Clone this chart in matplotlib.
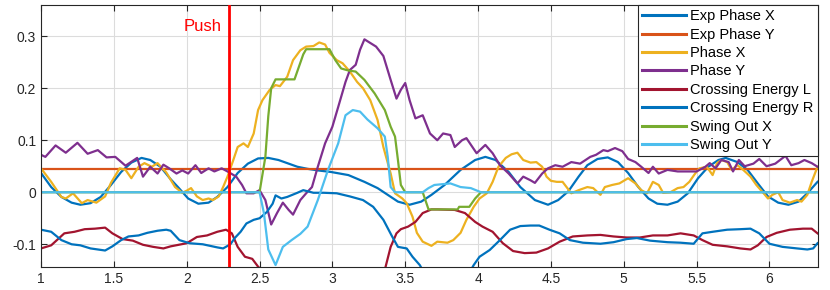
import matplotlib
matplotlib.use("Agg")
import matplotlib.pyplot as plt

plt.rcParams['font.family'] = ['Liberation Sans', 'DejaVu Sans']

# values
push_time = 2.287
exp_phase_y = 0.045

exp_x_t = [1.00, 1.07, 1.14, 1.21, 1.27, 1.34, 1.41, 1.48, 1.55, 1.62, 1.69, 1.75, 1.82, 1.89,
           1.94, 2.01, 2.08, 2.15, 2.21, 2.28, 2.35, 2.42, 2.49, 2.56, 2.63, 2.70, 2.76, 2.83,
           2.90, 2.99, 3.11, 3.22, 3.31, 3.38, 3.45, 3.53, 3.61, 3.68, 3.77, 3.88, 3.98, 4.05,
           4.12, 4.21, 4.29, 4.39, 4.48, 4.55, 4.62, 4.69, 4.75, 4.82, 4.89, 4.96, 5.03, 5.10,
           5.17, 5.23, 5.30, 5.37, 5.44, 5.51, 5.58, 5.65, 5.70, 5.78, 5.85, 5.92, 5.99, 6.06,
           6.13, 6.20, 6.26, 6.33]
exp_x_v = [0.037, 0.010, -0.009, -0.020, -0.024, -0.021, -0.009, 0.014, 0.039, 0.057, 0.066, 0.062, 0.049, 0.025,
           0.010, -0.012, -0.022, -0.020, -0.009, 0.010, 0.037, 0.055, 0.065, 0.066, 0.062, 0.055, 0.049, 0.045,
           0.042, 0.039, 0.033, 0.020, 0.008, -0.005, -0.018, -0.024, -0.018, -0.005, 0.014, 0.043, 0.062, 0.068,
           0.062, 0.039, 0.010, -0.015, -0.024, -0.015, 0.002, 0.030, 0.052, 0.064, 0.067, 0.058, 0.037, 0.010,
           -0.012, -0.022, -0.024, -0.018, -0.002, 0.027, 0.049, 0.062, 0.066, 0.058, 0.043, 0.017, -0.008, -0.020,
           -0.024, -0.018, -0.002, 0.020]

phase_x_t = [1.00, 1.07, 1.14, 1.17, 1.22, 1.28, 1.32, 1.38, 1.44, 1.48, 1.54, 1.58, 1.62, 1.67, 1.71,
             1.76, 1.80, 1.86, 1.92, 1.97, 2.00, 2.03, 2.07, 2.11, 2.15, 2.18, 2.22, 2.25, 2.28, 2.32,
             2.35, 2.39, 2.42, 2.46, 2.49, 2.52, 2.57, 2.61, 2.64, 2.69, 2.73, 2.78, 2.82, 2.87, 2.91,
             2.95, 2.98, 3.03, 3.07, 3.12, 3.17, 3.21, 3.26, 3.31, 3.35, 3.40, 3.43, 3.48, 3.51, 3.55,
             3.58, 3.62, 3.68, 3.72, 3.79, 3.83, 3.88, 3.92, 3.97, 4.01, 4.06, 4.10, 4.14, 4.19, 4.23,
             4.27, 4.31, 4.36, 4.40, 4.44, 4.47, 4.50, 4.54, 4.58, 4.64, 4.69, 4.75, 4.79, 4.84, 4.87,
             4.92, 4.97, 5.03, 5.08, 5.12, 5.16, 5.20, 5.24, 5.27, 5.32, 5.37, 5.41, 5.45, 5.49, 5.52,
             5.57, 5.61, 5.64, 5.67, 5.71, 5.74, 5.78, 5.82, 5.87, 5.91, 5.96, 5.99, 6.02, 6.06, 6.09,
             6.14, 6.19, 6.22, 6.26, 6.29, 6.33]
phase_x_v = [0.046, 0.020, -0.009, -0.012, -0.002, -0.021, -0.015, -0.020, -0.008, 0.018, 0.046, 0.043, 0.027, 0.049, 0.056,
             0.049, 0.056, 0.038, 0.010, -0.001, 0.003, 0.008, -0.008, -0.015, -0.012, -0.015, -0.008, 0.010, 0.030, 0.062,
             0.087, 0.094, 0.087, 0.113, 0.158, 0.177, 0.197, 0.206, 0.204, 0.222, 0.254, 0.273, 0.280, 0.281, 0.288,
             0.284, 0.268, 0.254, 0.248, 0.232, 0.212, 0.200, 0.177, 0.139, 0.087, 0.036, -0.002, -0.012, -0.021, -0.047,
             -0.078, -0.095, -0.103, -0.095, -0.097, -0.092, -0.078, -0.053, -0.028, -0.012, -0.002, 0.020, 0.049, 0.066, 0.073,
             0.076, 0.062, 0.057, 0.058, 0.049, 0.030, 0.022, 0.020, 0.020, -0.002, 0.004, 0.010, 0.008, -0.005, 0.010,
             0.014, 0.017, 0.027, 0.017, 0.004, -0.002, 0.020, 0.014, -0.001, 0.000, 0.008, 0.010, 0.020, 0.036, 0.046,
             0.049, 0.033, 0.056, 0.062, 0.058, 0.043, 0.052, 0.043, 0.030, 0.014, -0.002, -0.012, -0.005, 0.000, -0.015,
             -0.020, -0.015, -0.018, -0.005, 0.020, 0.049]

phase_y_t = [1.00, 1.03, 1.10, 1.17, 1.25, 1.32, 1.39, 1.45, 1.51, 1.58, 1.66, 1.70, 1.75, 1.80, 1.84,
             1.88, 1.93, 1.97, 2.01, 2.06, 2.10, 2.15, 2.19, 2.24, 2.28, 2.34, 2.38, 2.41, 2.46, 2.50,
             2.54, 2.58, 2.62, 2.66, 2.70, 2.73, 2.78, 2.82, 2.86, 2.90, 2.95, 3.00, 3.04, 3.09, 3.12,
             3.16, 3.19, 3.22, 3.26, 3.30, 3.35, 3.40, 3.44, 3.47, 3.50, 3.53, 3.57, 3.62, 3.67, 3.72,
             3.76, 3.81, 3.84, 3.89, 3.92, 3.99, 4.05, 4.10, 4.15, 4.21, 4.27, 4.31, 4.36, 4.39, 4.44,
             4.48, 4.53, 4.58, 4.64, 4.70, 4.77, 4.81, 4.86, 4.89, 4.94, 4.99, 5.03, 5.08, 5.12, 5.17,
             5.20, 5.24, 5.30, 5.37, 5.43, 5.50, 5.56, 5.59, 5.63, 5.67, 5.72, 5.75, 5.79, 5.83, 5.89,
             5.93, 5.98, 6.04, 6.11, 6.15, 6.20, 6.24, 6.29, 6.33]
phase_y_v = [0.072, 0.068, 0.090, 0.076, 0.095, 0.074, 0.081, 0.067, 0.068, 0.051, 0.066, 0.030, 0.049, 0.036, 0.053,
             0.046, 0.036, 0.042, 0.036, 0.052, 0.037, 0.046, 0.040, 0.046, 0.040, 0.030, 0.014, -0.002, -0.002, 0.004,
             -0.015, -0.062, -0.040, -0.020, -0.034, -0.043, -0.015, -0.002, 0.010, 0.049, 0.094, 0.126, 0.164, 0.212, 0.235,
             0.245, 0.274, 0.294, 0.287, 0.280, 0.262, 0.216, 0.180, 0.197, 0.210, 0.177, 0.142, 0.148, 0.113, 0.100,
             0.113, 0.110, 0.087, 0.100, 0.104, 0.075, 0.091, 0.075, 0.052, 0.036, 0.017, 0.030, 0.023, 0.018, 0.036,
             0.046, 0.052, 0.049, 0.058, 0.055, 0.068, 0.072, 0.081, 0.079, 0.085, 0.079, 0.064, 0.058, 0.049, 0.037,
             0.049, 0.036, 0.043, 0.040, 0.040, 0.040, 0.049, 0.056, 0.046, 0.062, 0.058, 0.040, 0.062, 0.050, 0.055,
             0.064, 0.050, 0.055, 0.070, 0.052, 0.056, 0.062, 0.056, 0.049]

cross_l_t = [1.00, 1.07, 1.16, 1.23, 1.30, 1.37, 1.44, 1.49, 1.56, 1.63, 1.70, 1.77, 1.84, 1.89,
             2.00, 2.07, 2.14, 2.21, 2.27, 2.31, 2.35, 2.40, 2.45, 2.49, 2.55,
             3.35, 3.40, 3.44, 3.47, 3.52, 3.57, 3.62, 3.68, 3.72, 3.84, 3.91, 3.98, 4.03, 4.10,
             4.17, 4.24, 4.32, 4.40, 4.48, 4.56, 4.65, 4.75, 4.84, 4.93, 5.02, 5.11, 5.20, 5.30,
             5.39, 5.48, 5.54, 5.61, 5.71, 5.80, 5.87, 5.92, 5.98, 6.05, 6.14, 6.23, 6.29, 6.33]
cross_l_v = [-0.108, -0.102, -0.079, -0.076, -0.071, -0.070, -0.068, -0.079, -0.090, -0.093, -0.101, -0.105, -0.108, -0.104,
             -0.098, -0.086, -0.083, -0.076, -0.072, -0.079, -0.105, -0.124, -0.128, -0.143, -0.160,
             -0.160, -0.105, -0.079, -0.071, -0.066, -0.057, -0.040, -0.033, -0.033, -0.034, -0.040, -0.057, -0.066, -0.076,
             -0.098, -0.113, -0.117, -0.116, -0.108, -0.095, -0.085, -0.083, -0.082, -0.085, -0.087, -0.087, -0.083, -0.083,
             -0.079, -0.083, -0.092, -0.101, -0.104, -0.108, -0.110, -0.102, -0.086, -0.078, -0.072, -0.070, -0.070, -0.079]

cross_r_t = [1.00, 1.07, 1.14, 1.21, 1.27, 1.34, 1.44, 1.49, 1.55, 1.60, 1.67, 1.73, 1.80, 1.86, 1.89,
             1.95, 2.02, 2.11, 2.21, 2.25, 2.30, 2.33, 2.37, 2.41, 2.46, 2.50, 2.55, 2.59, 2.61, 2.65,
             2.69, 2.76, 2.80, 2.87, 2.94, 3.03, 3.12, 3.21, 3.28, 3.35, 3.41, 3.45, 3.51, 3.55, 3.60, 3.64,
             3.93, 3.97, 4.01, 4.08, 4.15, 4.22, 4.29, 4.36, 4.42, 4.49, 4.56, 4.63, 4.72, 4.84, 4.93,
             5.02, 5.09, 5.18, 5.30, 5.39, 5.48, 5.54, 5.61, 5.71, 5.80, 5.87, 5.93, 6.00, 6.09, 6.19,
             6.26, 6.30, 6.33]
cross_r_v = [-0.072, -0.076, -0.092, -0.100, -0.102, -0.108, -0.112, -0.104, -0.092, -0.085, -0.083, -0.078, -0.074, -0.072, -0.074,
             -0.092, -0.098, -0.100, -0.106, -0.108, -0.100, -0.088, -0.076, -0.060, -0.053, -0.050, -0.038, -0.022, -0.006, -0.012,
             -0.009, -0.001, 0.004, -0.001, -0.001, -0.002, -0.008, -0.015, -0.028, -0.053, -0.085, -0.105, -0.108, -0.124, -0.140, -0.160,
             -0.160, -0.140, -0.124, -0.111, -0.092, -0.072, -0.065, -0.064, -0.064, -0.072, -0.079, -0.092, -0.097, -0.099, -0.096,
             -0.090, -0.088, -0.093, -0.096, -0.097, -0.099, -0.079, -0.076, -0.072, -0.071, -0.070, -0.079, -0.099, -0.105, -0.108,
             -0.110, -0.108, -0.098]

swing_x_t = [1.00, 2.50, 2.54, 2.56, 2.58, 2.61, 2.74, 2.80, 2.82, 2.98, 3.02, 3.06, 3.11, 3.16,
             3.22, 3.29, 3.36, 3.40, 3.43, 3.45, 3.47, 3.50, 3.62, 3.66, 3.86, 3.87, 3.94, 3.98,
             4.02, 6.33]
swing_x_v = [0.0, 0.0, 0.068, 0.146, 0.200, 0.217, 0.217, 0.265, 0.275, 0.275, 0.254, 0.238, 0.234, 0.232,
             0.216, 0.190, 0.158, 0.126, 0.107, 0.062, 0.014, 0.0, 0.0, -0.033, -0.033, -0.028, -0.028, -0.012,
             0.0, 0.0]

swing_y_t = [1.00, 2.50, 2.53, 2.56, 2.61, 2.66, 2.72, 2.78, 2.83, 2.90, 2.97, 3.04, 3.09, 3.14,
             3.19, 3.24, 3.31, 3.36, 3.38, 3.40, 3.43, 3.62, 3.66, 3.70, 3.81, 3.88, 3.95, 4.02, 6.33]
swing_y_v = [0.0, 0.0, -0.040, -0.110, -0.140, -0.105, -0.092, -0.080, -0.066, -0.015, 0.043, 0.094, 0.148, 0.158,
             0.155, 0.140, 0.123, 0.107, 0.068, 0.010, 0.0, 0.0, 0.008, 0.014, 0.017, 0.010, 0.008, 0.0, 0.0]

series = [
    ("Exp Phase X", exp_x_t, exp_x_v, "#0072BD"),
    ("Exp Phase Y", [1.0, 6.33], [exp_phase_y, exp_phase_y], "#D95319"),
    ("Phase X", phase_x_t, phase_x_v, "#EDB120"),
    ("Phase Y", phase_y_t, phase_y_v, "#7E2F8E"),
    ("Crossing Energy L", cross_l_t, cross_l_v, "#A2142F"),
    ("Crossing Energy R", cross_r_t, cross_r_v, "#0072BD"),
    ("Swing Out X", swing_x_t, swing_x_v, "#77AC30"),
    ("Swing Out Y", swing_y_t, swing_y_v, "#4DBEEE"),
]

fig = plt.figure(figsize=(8.3, 2.9), dpi=100)
ax = fig.add_axes([0.0494, 0.0793, 0.9361, 0.9035])

for name, t, v, col in series:
    ax.plot(t, v, color=col, lw=1.6, label=name, solid_joinstyle='round')

ax.axvline(push_time, color='red', lw=2.0, zorder=5)
ax.text(push_time - 0.05, 0.318, "Push", color='red', fontsize=12, ha='right', va='center')

ax.set_xlim(1, 6.333)
ax.set_ylim(-0.1437, 0.36)
ax.set_xticks([1, 1.5, 2, 2.5, 3, 3.5, 4, 4.5, 5, 5.5, 6])
ax.set_xticklabels(["1", "1.5", "2", "2.5", "3", "3.5", "4", "4.5", "5", "5.5", "6"])
ax.set_yticks([-0.1, 0, 0.1, 0.2, 0.3])
ax.set_yticklabels(["-0.1", "0", "0.1", "0.2", "0.3"])
ax.grid(True, color='#dcdcdc', lw=0.8)
ax.set_axisbelow(True)
ax.tick_params(direction='in', length=4, top=True, right=True, labelsize=10,
               colors='#262626', width=0.8)
for s in ax.spines.values():
    s.set_color('#262626')
    s.set_linewidth(0.8)

leg = ax.legend(loc='upper right', borderaxespad=0, fontsize=10.5, handlelength=3.0,
                handletextpad=0.3, labelspacing=0.3, borderpad=0.3, fancybox=False,
                framealpha=1, edgecolor='#262626')
leg.get_frame().set_linewidth(0.8)
leg.set_zorder(10)
for line in leg.get_lines():
    line.set_linewidth(2.2)

fig.savefig("out.png", dpi=100)
